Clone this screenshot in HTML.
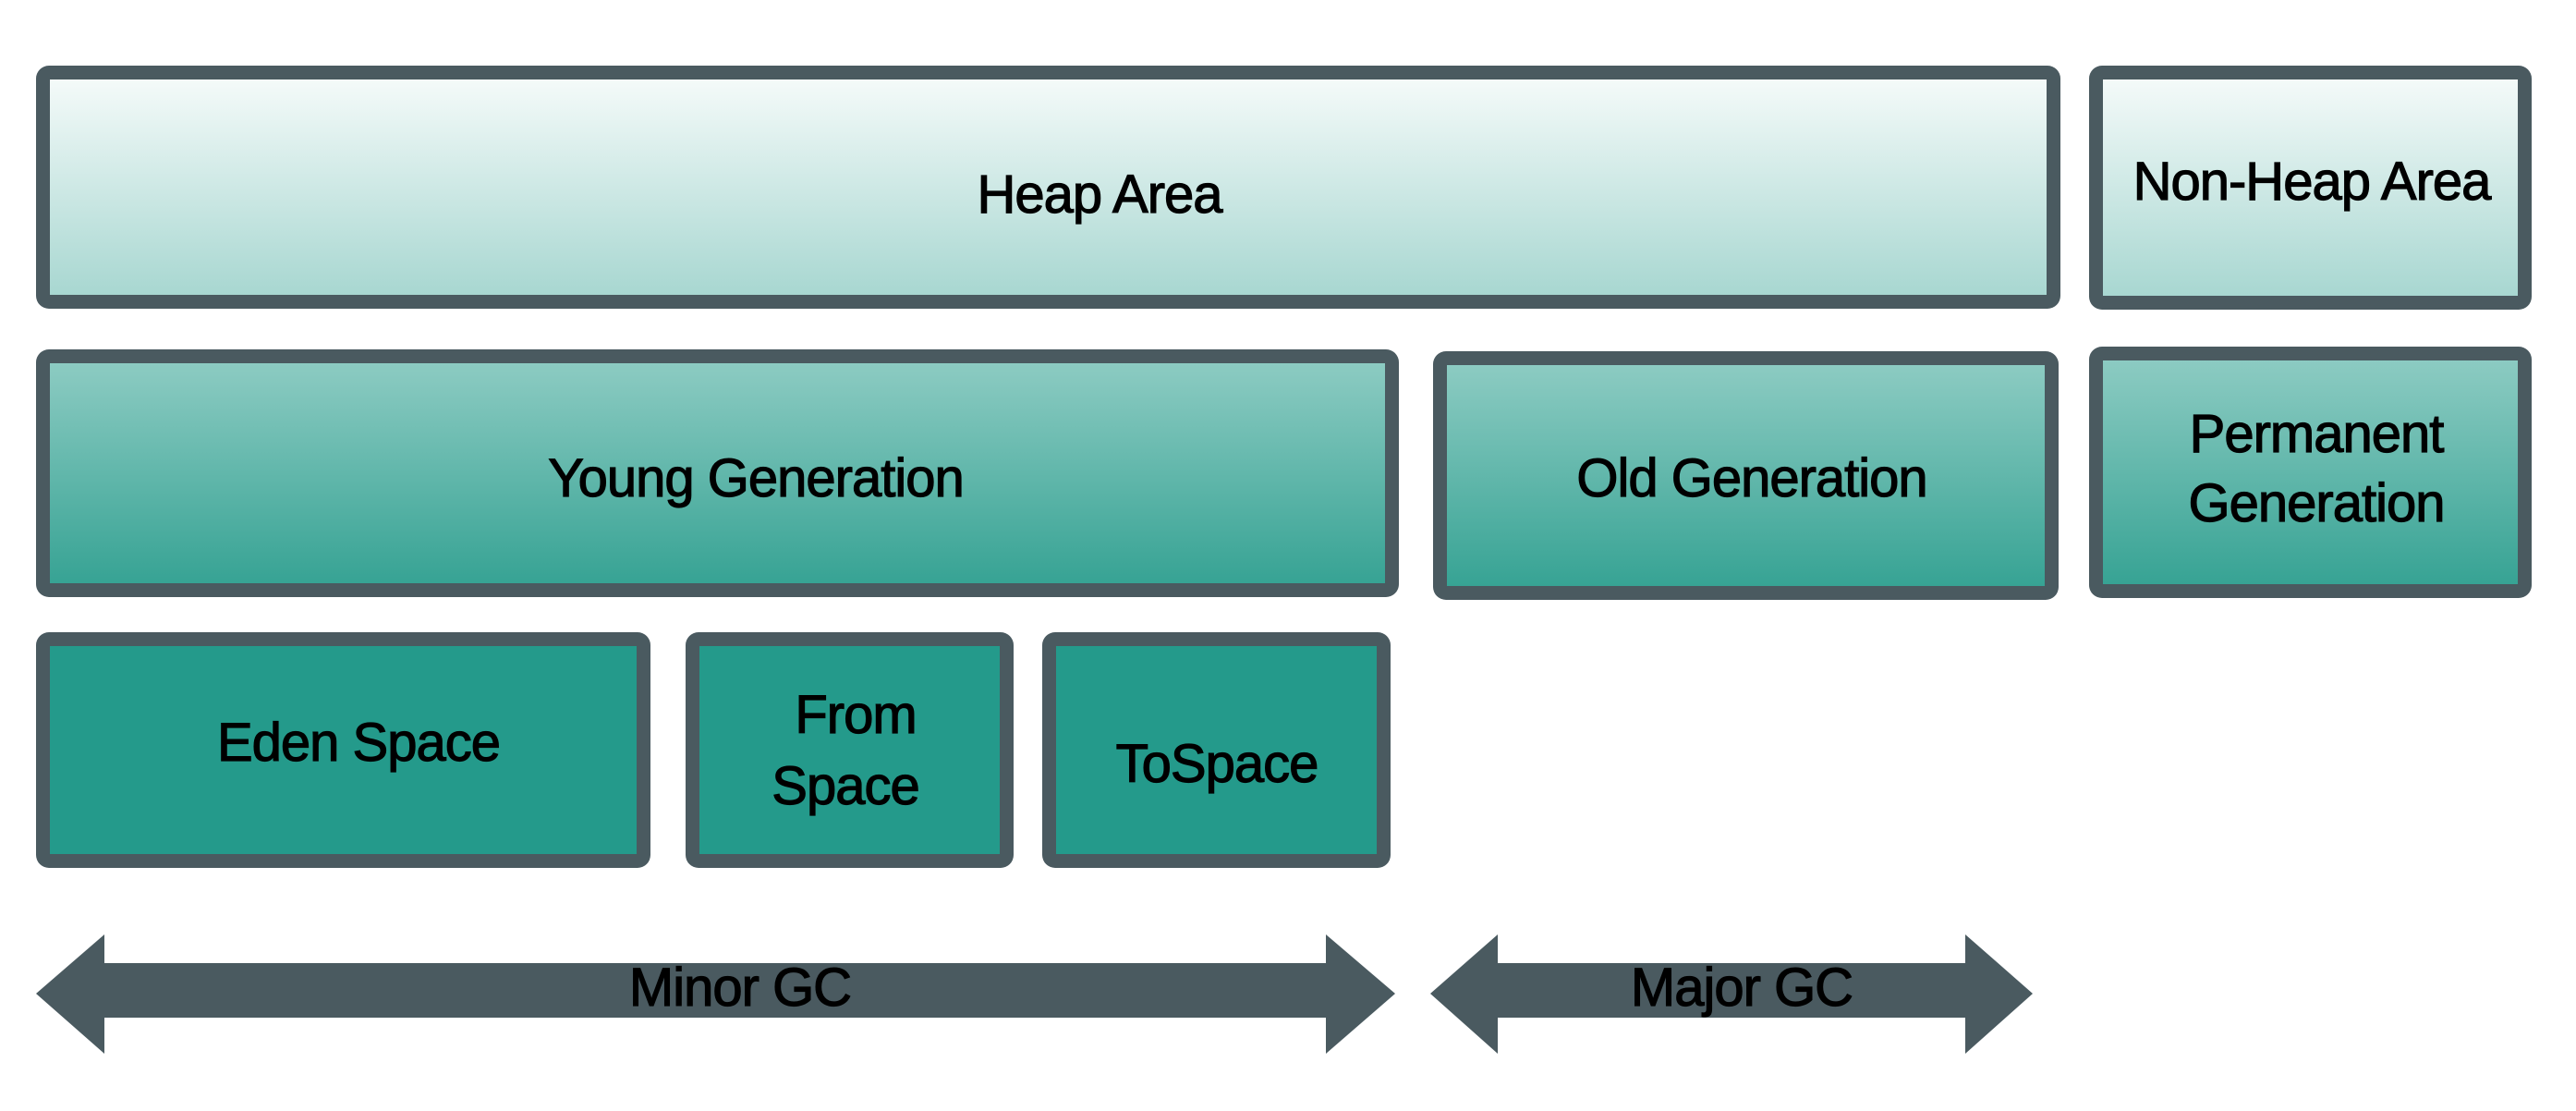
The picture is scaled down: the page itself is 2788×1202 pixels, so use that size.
<!DOCTYPE html>
<html><head><meta charset="utf-8"><style>
html,body{margin:0;padding:0;background:#fff;}
body{width:2788px;height:1202px;position:relative;overflow:hidden;font-family:"Liberation Sans",sans-serif;}
.b{position:absolute;box-sizing:border-box;border:15px solid #4a5a60;border-radius:14px;}
.l1{background:linear-gradient(#f4faf9,#a8d7d1);}
.l2{background:linear-gradient(#8ccbc2,#37a394);}
.l3{background:#249a8b;}
.t{position:absolute;transform:translate(-50%,-50%);font-size:58px;line-height:1;color:#000;white-space:nowrap;-webkit-text-stroke:1.2px #000;letter-spacing:-1px;}
</style></head><body>
<div class="b l1" style="left:39px;top:71px;width:2191px;height:263px"></div>
<div class="b l1" style="left:2261px;top:71px;width:479px;height:264px"></div>
<div class="b l2" style="left:39px;top:378px;width:1475px;height:268px"></div>
<div class="b l2" style="left:1551px;top:380px;width:677px;height:269px"></div>
<div class="b l2" style="left:2261px;top:375px;width:479px;height:272px"></div>
<div class="b l3" style="left:39px;top:684px;width:665px;height:255px"></div>
<div class="b l3" style="left:742px;top:684px;width:355px;height:255px"></div>
<div class="b l3" style="left:1128px;top:684px;width:377px;height:255px"></div>
<svg style="position:absolute;left:0;top:0" width="2788" height="1202">
<polygon fill="#4a5a60" points="39,1075 113,1011 113,1042 1435,1042 1435,1011 1510,1075 1435,1140 1435,1101 113,1101 113,1140"/>
<polygon fill="#4a5a60" points="1548,1075 1621,1011 1621,1042 2127,1042 2127,1011 2200,1075 2127,1140 2127,1101 1621,1101 1621,1140"/>
</svg>
<div class="t" style="left:1190px;top:211px">Heap Area</div>
<div class="t" style="left:2502px;top:197px">Non-Heap Area</div>
<div class="t" style="left:818px;top:518px">Young Generation</div>
<div class="t" style="left:1896px;top:518px">Old Generation</div>
<div class="t" style="left:2507px;top:470px">Permanent</div>
<div class="t" style="left:2507px;top:545px">Generation</div>
<div class="t" style="left:388px;top:804px">Eden Space</div>
<div class="t" style="left:926px;top:774px">From</div>
<div class="t" style="left:915px;top:851px">Space</div>
<div class="t" style="left:1317px;top:827px">ToSpace</div>
<div class="t" style="left:801px;top:1069px">Minor GC</div>
<div class="t" style="left:1885px;top:1069px">Major GC</div>
</body></html>
